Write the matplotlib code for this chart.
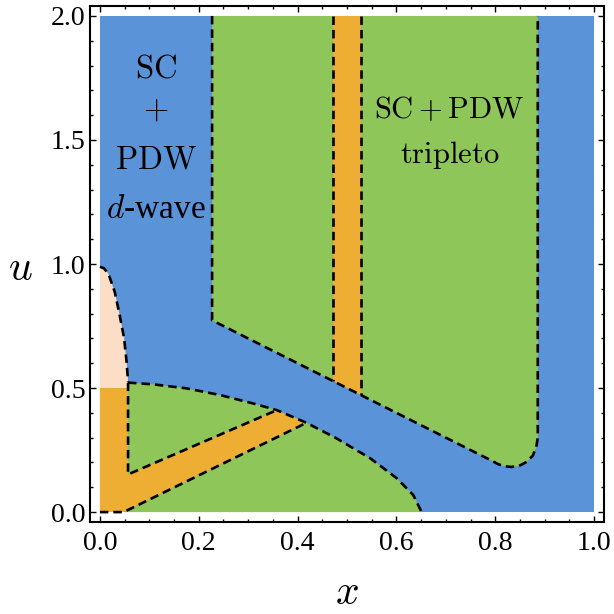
import matplotlib
matplotlib.use("Agg")
import matplotlib.pyplot as plt
from matplotlib.ticker import MultipleLocator, FormatStrFormatter

plt.rcParams['mathtext.fontset'] = 'cm'

BLUE = "#5b93d8"
GREEN = "#8ec65a"
ORANGE = "#edae33"
PEACH = "#fbdec5"

wall_x = 0.227                      # left edge of the upper-left triplet region
stripe_x = [0.471, 0.529]           # narrow vertical stripe
right_x = 0.886                     # right edge of the big triplet region
ridge_x = [0.227, 0.471, 0.529, 0.795]
ridge_u = [0.773, 0.529, 0.471, 0.205]
corner_x = [0.795, 0.806, 0.818, 0.832, 0.848, 0.864, 0.876, 0.883, 0.886]
corner_u = [0.205, 0.193, 0.185, 0.182, 0.186, 0.203, 0.228, 0.262, 0.300]

peach_x = [0.0, 0.008, 0.017, 0.030, 0.040, 0.049, 0.054, 0.057]
peach_u = [0.989, 0.983, 0.962, 0.888, 0.794, 0.700, 0.606, 0.525]
peach_floor = 0.5

dome_x = [0.057, 0.108, 0.175, 0.243, 0.310, 0.358, 0.418, 0.479, 0.547, 0.601, 0.634, 0.651]
dome_u = [0.522, 0.515, 0.499, 0.472, 0.438, 0.411, 0.360, 0.297, 0.217, 0.136, 0.069, 0.0]

inner_x = 0.057                     # vertical boundary of the small triangle
band_top = [(0.057, 0.152), (0.358, 0.411)]
band_bot = [(0.0, 0.0), (0.048, 0.0), (0.418, 0.360)]

fig = plt.figure(figsize=(6.14, 6.14), dpi=100)
ax = fig.add_axes([0.1466, 0.1498, 0.8371, 0.8404])

# background phase
ax.fill([0, 1, 1, 0], [0, 0, 2, 2], color=BLUE, lw=0)

# upper regions
ax.fill([wall_x] + ridge_x[:2] + [stripe_x[0]], [2] + ridge_u[:2] + [2], color=GREEN, lw=0)
ax.fill([stripe_x[0]] + ridge_x[1:3] + [stripe_x[1]], [2] + ridge_u[1:3] + [2], color=ORANGE, lw=0)
ax.fill([stripe_x[1]] + ridge_x[2:] + corner_x + [right_x],
        [2] + ridge_u[2:] + corner_u + [2], color=GREEN, lw=0)

# lower-left regions
ax.fill([0, 0] + peach_x + [peach_x[-1]], [peach_floor, peach_u[0]] + peach_u + [peach_floor],
        color=PEACH, lw=0)
ax.fill([p[0] for p in band_bot] + [dome_x[6], dome_x[5]] + [band_top[0][0], inner_x, 0],
        [p[1] for p in band_bot] + [dome_u[6], dome_u[5]] + [band_top[0][1], peach_floor, peach_floor],
        color=ORANGE, lw=0)
ax.fill([band_top[0][0]] + dome_x[:6], [band_top[0][1]] + dome_u[:6], color=GREEN, lw=0)
ax.fill([band_bot[1][0]] + dome_x[6:], [band_bot[1][1]] + dome_u[6:], color=GREEN, lw=0)

# dashed phase boundaries
dash = dict(color="black", lw=1.9, dashes=(3.2, 1.9), solid_joinstyle="round")
ax.plot([wall_x] + ridge_x + corner_x[1:] + [right_x], [2] + ridge_u + corner_u[1:] + [2], **dash)
ax.plot([stripe_x[0], stripe_x[0]], [2, ridge_u[1]], **dash)
ax.plot([stripe_x[1], stripe_x[1]], [2, ridge_u[2]], **dash)
ax.plot(peach_x, peach_u, **dash)
ax.plot([inner_x] + [p[0] for p in band_top], [dome_u[0]] + [p[1] for p in band_top], **dash)
ax.plot(dome_x, dome_u, **dash)
ax.plot([p[0] for p in band_bot], [p[1] for p in band_bot], **dash)

# phase labels
txt = dict(ha="center", color="black")
ax.text(0.113, 1.75, r"$\mathrm{SC}$", va="baseline", fontsize=23.5, **txt)
ax.text(0.113, 1.625, r"$+$", va="center", fontsize=23.5, **txt)
ax.text(0.113, 1.387, r"$\mathrm{PDW}$", va="baseline", fontsize=23.5, **txt)
ax.text(0.113, 1.184, r"$d$-wave", va="baseline", family="Liberation Serif", fontsize=24, **txt)
ax.text(0.707, 1.587, r"$\mathrm{SC}+\mathrm{PDW}$", va="baseline", fontsize=22, **txt)
ax.text(0.707, 1.406, r"$\mathrm{tripleto}$", va="baseline", fontsize=22, **txt)

ax.set_xlim(-0.02, 1.02)
ax.set_ylim(-0.04, 2.04)
ax.xaxis.set_major_locator(MultipleLocator(0.2))
ax.xaxis.set_minor_locator(MultipleLocator(0.05))
ax.yaxis.set_major_locator(MultipleLocator(0.5))
ax.yaxis.set_minor_locator(MultipleLocator(0.1))
ax.xaxis.set_major_formatter(FormatStrFormatter("%.1f"))
ax.yaxis.set_major_formatter(FormatStrFormatter("%.1f"))
ax.tick_params(which="both", direction="in", top=True, right=True, width=1)
ax.tick_params(which="major", length=4.5)
ax.tick_params(which="minor", length=2.5)
ax.tick_params(axis="x", pad=6.5)
ax.tick_params(axis="y", pad=3.5)
for lab in ax.get_xticklabels() + ax.get_yticklabels():
    lab.set_family("Liberation Serif")
    lab.set_fontsize(20)
for s in ax.spines.values():
    s.set_linewidth(1.5)

ax.set_xlabel(r"$x$", fontsize=30, va="center")
ax.set_ylabel(r"$u$", fontsize=30, rotation=0, ha="center", va="center")
ax.xaxis.set_label_coords(0.5, -0.135)
ax.yaxis.set_label_coords(-0.136, 0.492)

fig.savefig("out.png", dpi=100)
